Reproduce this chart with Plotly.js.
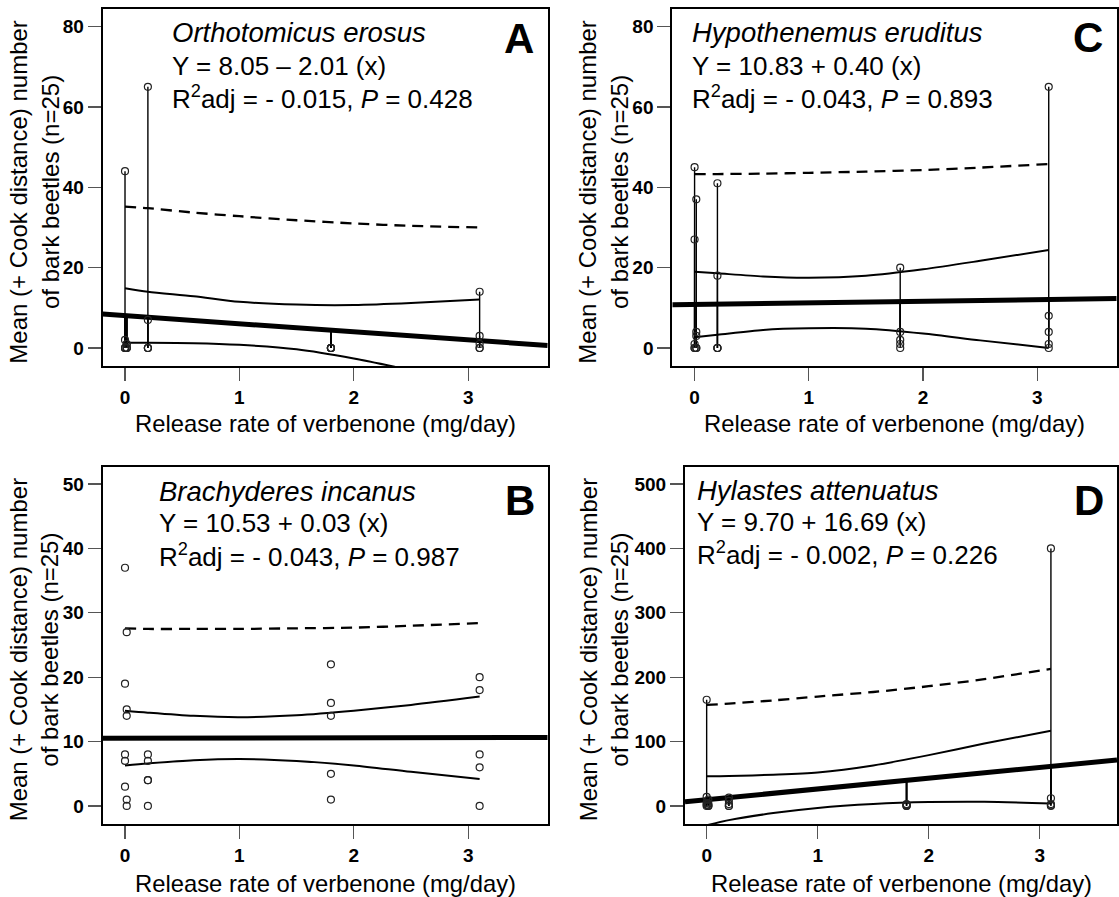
<!DOCTYPE html>
<html>
<head>
<meta charset="utf-8">
<script src="https://cdn.plot.ly/plotly-3.0.1.min.js"></script>
<style>html,body{margin:0;padding:0;background:#fff;}#chart{width:1119px;height:897px;}</style>
</head>
<body>
<div id="chart"></div>
<script>
// ---------- data ----------
const xTicks = [0, 1, 2, 3];
const xRange = [-0.195, 3.695];

// Panel A: Orthotomicus erosus
const xA = [0,0,0,0,0, 0.015,0.015,0.015,0.015,0.015, 0.2,0.2,0.2,0.2,0.2, 1.8,1.8,1.8,1.8,1.8, 3.1,3.1,3.1,3.1,3.1];
const yA = [44,2,0,0,0, 1,1,0,0,0, 65,7,0,0,0, 0,0,0,0,0, 14,3,1,0,0];
const fitA = [8.05, -2.01];
// Panel B: Brachyderes incanus
const xB = xA;
const yB = [37,19,8,7,3, 27,15,14,1,0, 8,7,4,4,0, 22,16,14,5,1, 20,18,8,6,0];
const fitB = [10.53, 0.03];
// Panel C: Hypothenemus eruditus
const xC = xA;
const yC = [45,27,1,0,0, 37,4,3,0,0, 41,18,0,0,0, 20,4,2,1,0, 65,8,4,1,0];
const fitC = [10.83, 0.40];
// Panel D: Hylastes attenuatus
const xD = xA;
const yD = [165,14,5,2,0, 10,4,1,0,0, 13,8,3,0,0, 3,2,1,0,0, 400,12,3,1,0];
const fitD = [9.70, 16.69];

// confidence (solid) and prediction (dashed) curves
const ciX = [0, 0.2, 0.6, 1.0, 1.5, 2.0, 2.5, 3.1];
const upA = [14.9, 14.0, 12.9, 11.5, 10.8, 10.7, 11.2, 12.1];
const loA = [1.3, 1.3, 1.2, 0.8, -0.3, -2.6, -5.5, -9.0];
const piA = [35.2, 34.8, 33.7, 32.8, 31.8, 31.0, 30.4, 30.0];
const upB = [14.8, 14.5, 14.0, 13.8, 14.1, 14.8, 15.7, 17.0];
const loB = [6.3, 6.6, 7.1, 7.3, 7.0, 6.3, 5.3, 4.2];
const piB = [27.6, 27.5, 27.5, 27.5, 27.6, 27.7, 28.0, 28.4];
const upC = [19.0, 18.6, 17.8, 17.5, 18.0, 19.6, 21.7, 24.4];
const loC = [2.7, 3.3, 4.5, 4.9, 4.8, 3.6, 1.9, 0.0];
const piC = [43.3, 43.3, 43.4, 43.6, 43.9, 44.3, 44.9, 45.8];
const upD = [46, 46.5, 48.5, 52, 63, 79, 97, 117];
const loD = [-30, -22, -11, -3, 3, 6, 6.5, 4];
const piD = [157, 159, 164, 170, 177, 186, 197, 213];

// texts
const species = ['Orthotomicus erosus', 'Brachyderes incanus', 'Hypothenemus eruditus', 'Hylastes attenuatus'];
const equations = ['Y = 8.05 \u2013 2.01 (x)', 'Y = 10.53 + 0.03 (x)', 'Y = 10.83 + 0.40 (x)', 'Y = 9.70 + 16.69 (x)'];
const r2 = ['- 0.015', '- 0.043', '- 0.043', '- 0.002'];
const pv = ['0.428', '0.987', '0.893', '0.226'];
const letters = ['A', 'B', 'C', 'D'];
const xTitle = 'Release rate of verbenone (mg/day)';
const yTitle = 'Mean (+ Cook distance) number<br>of bark beetles (n=25)';

// ---------- layout geometry ----------
const W = 1119, H = 897;
const FF = 'Liberation Sans, Arial, Helvetica, sans-serif';
const px = v => v / W;
const py = v => 1 - v / H;

const panels = [
  {xa:'x',  ya:'y',  xs:xA, ys:yA, fit:fitA, up:upA, lo:loA, pi:piA, seg:true,
   dom:[102.7,547.7, 9.3,366], yr:[-4.48,84.3], dt:20,
   tx:170, ty:[33,66,97], lx:519, ly:38, xtY:423, ytX:34},
  {xa:'x3', ya:'y3', xs:xB, ys:yB, fit:fitB, up:upB, lo:loB, pi:piB, seg:false,
   dom:[102.7,547.7, 466.7,824], yr:[-2.8,52.7], dt:10,
   tx:157, ty:[491,523,555], lx:520, ly:501, xtY:883, ytX:34},
  {xa:'x2', ya:'y2', xs:xC, ys:yC, fit:fitC, up:upC, lo:loC, pi:piC, seg:true,
   dom:[672.3,1116.7, 9.3,366], yr:[-4.48,84.3], dt:20,
   tx:690, ty:[33,66,97], lx:1088, ly:37, xtY:423, ytX:603},
  {xa:'x4', ya:'y4', xs:xD, ys:yD, fit:fitD, up:upD, lo:loD, pi:piD, seg:true,
   dom:[685,1117, 466.7,824], yr:[-28,527], dt:100,
   tx:695, ty:[490,522,553], lx:1089, ly:501, xtY:883, ytX:604}
];

const traces = [];
const annotations = [];
const layout = {
  width: W, height: H, margin:{l:0,r:0,t:0,b:0},
  paper_bgcolor:'#fff', plot_bgcolor:'#fff', showlegend:false,
  font:{family:FF, color:'#000'}
};

panels.forEach((p, k) => {
  const axx = {
    domain:[px(p.dom[0]), px(p.dom[1])], range:xRange, anchor:p.ya,
    tickvals:xTicks, ticktext:xTicks.map(String), ticks:'outside', ticklen:13, tickwidth:1.3, tickcolor:'#555',
    showline:true, mirror:true, linewidth:2, linecolor:'#000', showgrid:false, zeroline:false,
    tickfont:{family:FF, size:19, color:'#000', weight:'bold'}
  };
  const axy = {
    domain:[py(p.dom[3]), py(p.dom[2])], range:p.yr, anchor:p.xa,
    tick0:0, dtick:p.dt, ticks:'outside', ticklen:13, tickwidth:1.3, tickcolor:'#555',
    showline:true, mirror:true, linewidth:2, linecolor:'#000', showgrid:false, zeroline:false,
    tickfont:{family:FF, size:19, color:'#000', weight:'bold'}
  };
  const xn = p.xa === 'x' ? 'xaxis' : 'xaxis' + p.xa.slice(1);
  const yn = p.ya === 'y' ? 'yaxis' : 'yaxis' + p.ya.slice(1);
  layout[xn] = axx; layout[yn] = axy;

  const f = x => p.fit[0] + p.fit[1] * x;

  // Cook distance segments
  if (p.seg) {
    const sx = [], sy = [];
    p.xs.forEach((x, i) => { sx.push(x, x, null); sy.push(p.ys[i], f(x), null); });
    traces.push({type:'scatter', mode:'lines', x:sx, y:sy, xaxis:p.xa, yaxis:p.ya,
      line:{color:'#000', width:1.4}, hoverinfo:'skip'});
  }
  // CI bands
  traces.push({type:'scatter', mode:'lines', x:ciX, y:p.up, xaxis:p.xa, yaxis:p.ya,
    line:{color:'#000', width:2, shape:'spline', smoothing:0.8}});
  traces.push({type:'scatter', mode:'lines', x:ciX, y:p.lo, xaxis:p.xa, yaxis:p.ya,
    line:{color:'#000', width:2, shape:'spline', smoothing:0.8}});
  // prediction limit
  traces.push({type:'scatter', mode:'lines', x:ciX, y:p.pi, xaxis:p.xa, yaxis:p.ya,
    line:{color:'#000', width:2.3, dash:'11px,7px', shape:'spline', smoothing:0.8}});
  // regression line
  traces.push({type:'scatter', mode:'lines', x:xRange, y:xRange.map(f), xaxis:p.xa, yaxis:p.ya,
    line:{color:'#000', width:5}});
  // points
  traces.push({type:'scatter', mode:'markers', x:p.xs, y:p.ys, xaxis:p.xa, yaxis:p.ya,
    marker:{symbol:'circle-open', size:7, color:'#222', line:{width:1.2, color:'#222'}}});

  const base = {xref:'paper', yref:'paper', showarrow:false, xanchor:'left', yanchor:'middle',
                font:{family:FF, size:26, color:'#000'}};
  annotations.push(Object.assign({}, base, {x:px(p.tx), y:py(p.ty[0]), text:'<i>' + species[k] + '</i>',
    font:{family:FF, size:27.5, color:'#000'}}));
  annotations.push(Object.assign({}, base, {x:px(p.tx), y:py(p.ty[1]), text:equations[k]}));
  annotations.push(Object.assign({}, base, {x:px(p.tx), y:py(p.ty[2]),
    text:'R<sup>2</sup>adj = ' + r2[k] + ', <i>P</i> = ' + pv[k]}));
  annotations.push({xref:'paper', yref:'paper', showarrow:false, xanchor:'center', yanchor:'middle',
    x:px(p.lx), y:py(p.ly), text:'<b>' + letters[k] + '</b>', font:{family:FF, size:42, color:'#000'}});
  annotations.push({xref:'paper', yref:'paper', showarrow:false, xanchor:'center', yanchor:'middle',
    x:px((p.dom[0] + p.dom[1]) / 2), y:py(p.xtY), text:xTitle, font:{family:FF, size:23.8, color:'#000'}});
  annotations.push({xref:'paper', yref:'paper', showarrow:false, xanchor:'center', yanchor:'middle',
    x:px(p.ytX), y:py((p.dom[2] + p.dom[3]) / 2 + 4), text:yTitle, textangle:-90,
    font:{family:FF, size:24, color:'#000'}});
});

layout.annotations = annotations;
Plotly.newPlot('chart', traces, layout, {displayModeBar:false, staticPlot:true});
</script>
</body>
</html>
